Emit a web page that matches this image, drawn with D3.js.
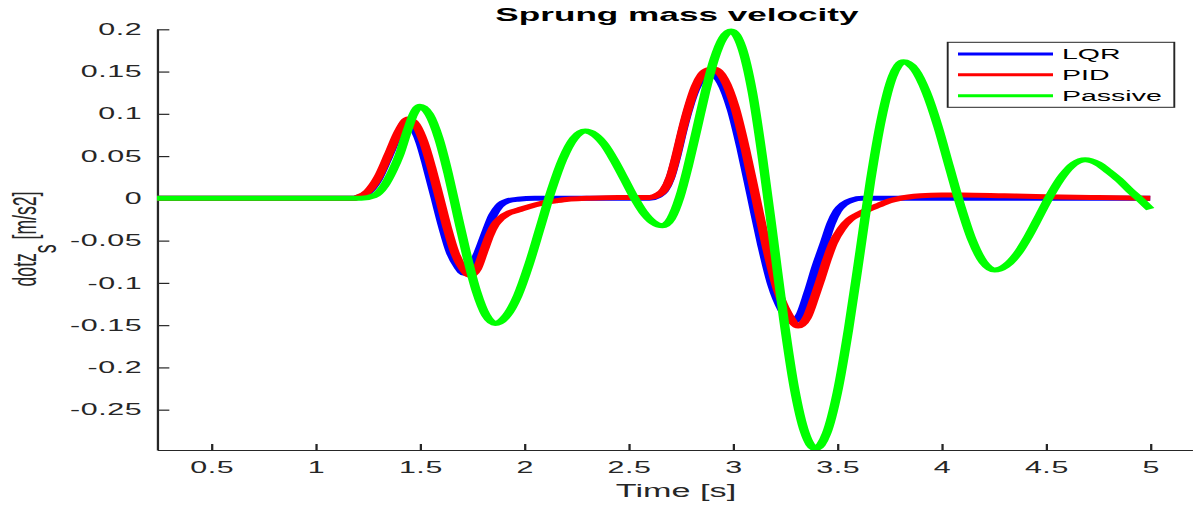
<!DOCTYPE html>
<html>
<head>
<meta charset="utf-8">
<script src="https://cdn.jsdelivr.net/npm/d3@7"></script>
<style>
  body { margin: 0; background: #fff; }
  text { font-family: "Liberation Sans", Arial, Helvetica, sans-serif; }
</style>
</head>
<body>
<div id="chart-area"></div>
<script>
// series (time in s, velocity in m/s)
var timeLqr = [0.24, 1.18, 1.2, 1.25, 1.3, 1.35, 1.4, 1.435, 1.46, 1.5, 1.535, 1.573, 1.61, 1.647, 1.684, 1.712, 1.745, 1.78, 1.82, 1.85, 1.88, 1.92, 1.97, 2.05, 2.6, 2.64, 2.67, 2.7, 2.73, 2.76, 2.79, 2.82, 2.85, 2.895, 2.944, 2.993, 3.041, 3.09, 3.139, 3.188, 3.236, 3.285, 3.32, 3.36, 3.4, 3.44, 3.47, 3.5, 3.53, 3.57, 3.62, 5.0];
var lqr = [0, 0, 0.001, 0.007, 0.023, 0.05, 0.078, 0.091, 0.087, 0.067, 0.037, 0.001, -0.034, -0.064, -0.081, -0.0885, -0.082, -0.064, -0.038, -0.02, -0.009, -0.003, -0.001, 0, 0, 0.003, 0.009, 0.024, 0.05, 0.081, 0.108, 0.129, 0.142, 0.148, 0.1368, 0.105, 0.0573, 0.001, -0.0553, -0.103, -0.132, -0.146, -0.139, -0.112, -0.08, -0.052, -0.03, -0.015, -0.007, -0.002, 0, 0];

var timePid = [0.24, 1.18, 1.2, 1.25, 1.3, 1.35, 1.4, 1.444, 1.481, 1.518, 1.555, 1.593, 1.63, 1.667, 1.704, 1.741, 1.775, 1.805, 1.835, 1.86, 1.885, 1.93, 1.97, 2.02, 2.08, 2.15, 2.21, 2.3, 2.45, 2.6, 2.64, 2.67, 2.7, 2.73, 2.76, 2.79, 2.82, 2.85, 2.88, 2.907, 2.958, 3.009, 3.059, 3.11, 3.161, 3.212, 3.262, 3.313, 3.355, 3.39, 3.42, 3.45, 3.48, 3.52, 3.56, 3.6, 3.65, 3.7, 3.75, 3.8, 3.9, 4.0, 4.1, 4.3, 4.5, 4.75, 5.0];
var pid = [0, 0, 0.001, 0.008, 0.025, 0.052, 0.08, 0.094, 0.087, 0.0669, 0.0369, 0.0015, -0.0339, -0.0639, -0.082, -0.091, -0.083, -0.063, -0.043, -0.031, -0.024, -0.017, -0.014, -0.01, -0.006, -0.003, -0.001, 0, 0.001, 0.001, 0.004, 0.01, 0.025, 0.052, 0.083, 0.11, 0.132, 0.146, 0.152, 0.153, 0.141, 0.1085, 0.0592, 0.001, -0.0572, -0.1065, -0.136, -0.151, -0.141, -0.118, -0.096, -0.073, -0.053, -0.036, -0.025, -0.019, -0.013, -0.008, -0.003, 0, 0.003, 0.004, 0.004, 0.003, 0.002, 0.001, 0];

var timePassive = [0.24, 1.22, 1.28, 1.33, 1.37, 1.4, 1.44, 1.47, 1.5, 1.545, 1.59, 1.635, 1.68, 1.726, 1.771, 1.816, 1.861, 1.915, 1.969, 2.023, 2.077, 2.13, 2.184, 2.238, 2.292, 2.338, 2.385, 2.431, 2.478, 2.524, 2.57, 2.617, 2.663, 2.704, 2.745, 2.786, 2.828, 2.869, 2.91, 2.951, 2.992, 3.042, 3.093, 3.143, 3.194, 3.244, 3.294, 3.345, 3.395, 3.448, 3.501, 3.554, 3.607, 3.659, 3.712, 3.765, 3.818, 3.873, 3.927, 3.982, 4.036, 4.091, 4.145, 4.2, 4.254, 4.308, 4.363, 4.417, 4.471, 4.525, 4.58, 4.634, 4.688, 4.75, 4.8, 4.85, 4.9, 4.95, 5.0];
var passive = [0, 0, 0.003, 0.015, 0.033, 0.05, 0.08, 0.1, 0.109, 0.0992, 0.0714, 0.0297, -0.0195, -0.0687, -0.11, -0.138, -0.148, -0.139, -0.115, -0.078, -0.034, 0.0094, 0.0463, 0.0709, 0.0796, 0.0753, 0.0632, 0.045, 0.0236, 0.0021, -0.0161, -0.0282, -0.0325, -0.0237, 0.0013, 0.0387, 0.0828, 0.1269, 0.1643, 0.1892, 0.198, 0.179, 0.1257, 0.0455, -0.049, -0.1435, -0.2237, -0.2772, -0.296, -0.2786, -0.229, -0.1548, -0.0673, 0.0203, 0.0945, 0.1441, 0.1615, 0.152, 0.1254, 0.0855, 0.0384, -0.0088, -0.0487, -0.0754, -0.0848, -0.0798, -0.0657, -0.0445, -0.0195, 0.0055, 0.0267, 0.0408, 0.0458, 0.041, 0.032, 0.022, 0.01, -0.001, -0.0127];

var seriesNames = ["LQR", "PID", "Passive"];
var seriesColors = ["#0000ff", "#ff0000", "#00ff00"];

var xTicks = [0.5, 1, 1.5, 2, 2.5, 3, 3.5, 4, 4.5, 5];
var yTicks = [-0.25, -0.2, -0.15, -0.1, -0.05, 0, 0.05, 0.1, 0.15, 0.2];

// the exported figure is stretched sideways, so draw in a narrow frame and widen it
var S = 1.9;
var width = 1193, height = 505;

var svg = d3.select("#chart-area").append("svg")
    .attr("width", width)
    .attr("height", height);

var g = svg.append("g").attr("transform", "scale(" + S + ",1)");

var x = d3.scaleLinear().domain([0.24, 5.2]).range([157 / S, 1192 / S]);
var y = d3.scaleLinear().domain([-0.2977, 0.2]).range([450, 29.3]);

var fmt = function(d) { return String(+d.toFixed(2)); };

// axes, ticks pointing inward like matlab
var xAxis = d3.axisBottom(x).tickValues(xTicks).tickFormat(fmt)
    .tickSizeInner(-6).tickSizeOuter(0).tickPadding(11.7);
var yAxis = d3.axisLeft(y).tickValues(yTicks).tickFormat(fmt)
    .tickSizeInner(-6.5).tickSizeOuter(0).tickPadding(7.8);

var gx = g.append("g").attr("transform", "translate(0,450)").call(xAxis);
var gy = g.append("g").attr("transform", "translate(" + x.range()[0] + ",0)").call(yAxis);

[gx, gy].forEach(function(a) {
    a.select(".domain").attr("stroke", "#262626").attr("stroke-width", 1.2);
    a.selectAll(".tick line").attr("stroke", "#262626").attr("stroke-width", 1.2);
    a.selectAll(".tick text").attr("fill", "#262626")
        .style("font-size", "16px")
        .style("letter-spacing", "0.3px")
        .style("font-family", "'Liberation Sans', Arial, sans-serif");
});

// lines
g.append("clipPath").attr("id", "plot-clip")
    .append("rect")
    .attr("x", x.range()[0]).attr("y", 26)
    .attr("width", x.range()[1] - x.range()[0])
    .attr("height", 450 - 26);

var series = [
    { t: timeLqr, v: lqr },
    { t: timePid, v: pid },
    { t: timePassive, v: passive }
];

var line = d3.line()
    .x(function(d) { return x(d[0]); })
    .y(function(d) { return y(d[1]); })
    .curve(d3.curveMonotoneX);

var plot = g.append("g").attr("clip-path", "url(#plot-clip)");

series.forEach(function(s, i) {
    plot.append("path")
        .datum(d3.zip(s.t, s.v))
        .attr("fill", "none")
        .attr("stroke", seriesColors[i])
        .attr("stroke-width", 5)
        .attr("stroke-linejoin", "round")
        .attr("d", line);
});

// title and axis labels
g.append("text")
    .attr("x", 677 / S)
    .attr("y", 21)
    .attr("text-anchor", "middle")
    .style("font-size", "18.5px")
    .style("font-weight", "bold")
    .attr("fill", "#000")
    .text("Sprung mass velocity");

g.append("text")
    .attr("x", 676 / S)
    .attr("y", 497)
    .attr("text-anchor", "middle")
    .style("font-size", "18px")
    .attr("fill", "#262626")
    .text("Time [s]");

var ylab = g.append("text")
    .attr("transform", "translate(" + (35.5 / S) + ",239) rotate(-90)")
    .attr("text-anchor", "middle")
    .style("font-size", "17.6px")
    .attr("fill", "#262626");
ylab.append("tspan").text("dotz");
ylab.append("tspan").attr("dy", "0.6em").text("s");
ylab.append("tspan").attr("dy", "-0.6em").text(" [m/s2]");

// legend
var legend = g.append("g");
legend.append("rect")
    .attr("x", 947.7 / S).attr("y", 42.3)
    .attr("width", (1174.3 - 947.7) / S).attr("height", 65)
    .attr("fill", "#fff")
    .attr("stroke", "#262626")
    .attr("stroke-width", 1);

seriesNames.forEach(function(name, i) {
    var ly = 54 + i * 20.85;
    legend.append("line")
        .attr("x1", 958 / S).attr("x2", 1053 / S)
        .attr("y1", ly).attr("y2", ly)
        .attr("stroke", seriesColors[i])
        .attr("stroke-width", 3);
    legend.append("text")
        .attr("x", 1062 / S).attr("y", ly)
        .attr("dy", "0.35em")
        .style("font-size", "15px")
        .attr("fill", "#000")
        .text(name);
});
</script>
</body>
</html>
